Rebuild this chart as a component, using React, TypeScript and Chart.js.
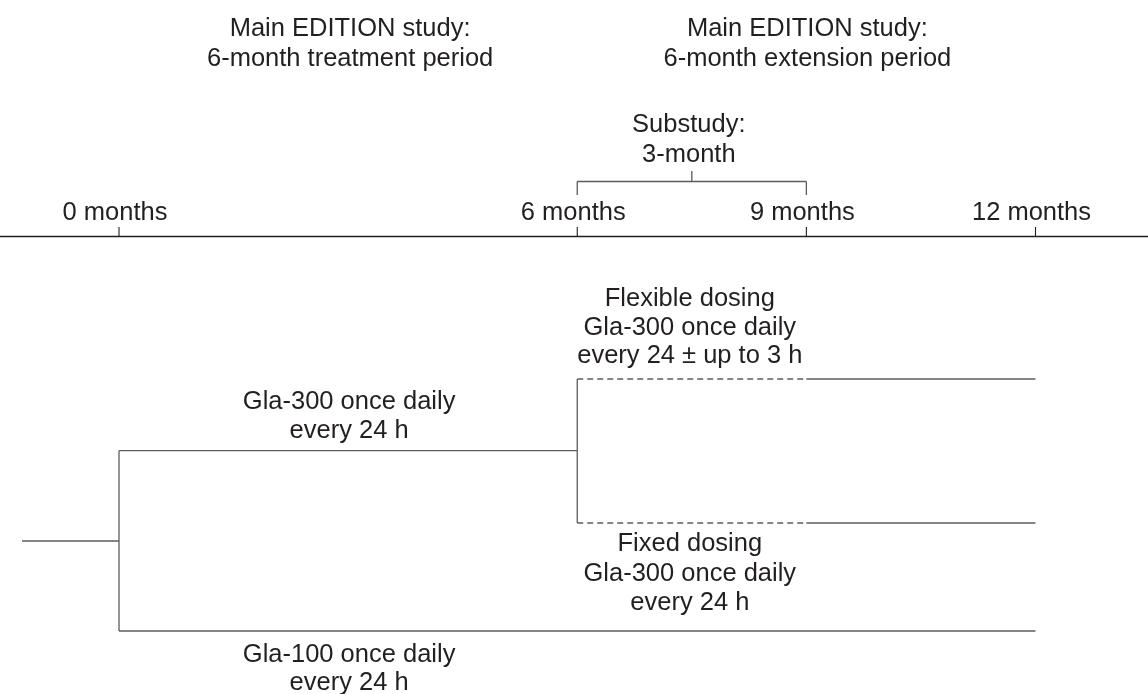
import React, { useEffect, useRef } from "react";
import { Chart, registerables } from "chart.js";

Chart.register(...registerables);

// ---- Data (study timeline, in months) ----
const timepoints = [0, 6, 9, 12];
const timepointLabels = ["0 months", "6 months", "9 months", "12 months"];
const screeningStart = -1.27;
const substudyMid = 7.5;
const treatmentMid = 3;

// y levels (schematic lanes, top = 0)
const levelTimeline = 236.5;
const levelTickTop = 227;
const levelBracket = 181.5;
const levelBracketFoot = 195;
const levelBracketTop = 171;
const levelGla300 = 450.7;
const levelFlexible = 379;
const levelFixed = 523;
const levelGla100 = 631;
const levelEntry = 541;

// text blocks
const headingTreatment = ["Main EDITION study:", "6-month treatment period"];
const headingExtension = ["Main EDITION study:", "6-month extension period"];
const substudyText = ["Substudy:", "3-month"];
const flexibleText = ["Flexible dosing", "Gla-300 once daily", "every 24 \u00b1 up to 3 h"];
const gla300Text = ["Gla-300 once daily", "every 24 h"];
const fixedText = ["Fixed dosing", "Gla-300 once daily", "every 24 h"];
const gla100Text = ["Gla-100 once daily", "every 24 h"];

const X_MIN = -1.558;
const X_MAX = 13.473;
const LINE_COLOR = "#5c5c5c";
const AXIS_COLOR = "#231f20";
const TEXT_COLOR = "#231f20";
const FONT = '25.5px "Liberation Sans", Arial, Helvetica, sans-serif';

function seg(x1: number, y1: number, x2: number, y2: number, opts: any = {}) {
  return {
    data: [
      { x: x1, y: y1 },
      { x: x2, y: y2 },
    ],
    showLine: true,
    borderColor: opts.color || LINE_COLOR,
    borderWidth: opts.width || 1.3,
    borderDash: opts.dash || [],
    pointRadius: 0,
    pointHoverRadius: 0,
    fill: false,
    tension: 0,
  };
}

type TextBlock = { x: number; y: number; lines: string[]; lh: number; dx?: number };

const textBlocks: TextBlock[] = [
  { x: treatmentMid, y: 36, lines: headingTreatment, lh: 30, dx: 2 },
  { x: timepoints[2], y: 36, lines: headingExtension, lh: 30, dx: 1 },
  { x: substudyMid, y: 132, lines: substudyText, lh: 30, dx: -3 },
  { x: substudyMid, y: 306, lines: flexibleText, lh: 28.5, dx: -2 },
  { x: treatmentMid, y: 409, lines: gla300Text, lh: 28.5, dx: 1 },
  { x: substudyMid, y: 551, lines: fixedText, lh: 29.5, dx: -2 },
  { x: treatmentMid, y: 661.5, lines: gla100Text, lh: 28.5, dx: 1 },
];

const textPlugin = {
  id: "diagramText",
  afterDatasetsDraw(chart: any) {
    const { ctx, scales } = chart;
    const xs = scales.x;
    const ys = scales.y;
    ctx.save();
    ctx.fillStyle = TEXT_COLOR;
    ctx.font = FONT;
    ctx.textAlign = "center";
    ctx.textBaseline = "alphabetic";
    textBlocks.forEach((b) => {
      const px = xs.getPixelForValue(b.x) + (b.dx || 0);
      b.lines.forEach((line, i) => {
        const py = ys.getPixelForValue(b.y) + i * b.lh;
        ctx.fillText(line, px, py);
      });
    });
    timepoints.forEach((t, i) => {
      const px = xs.getPixelForValue(t) - 4;
      const py = ys.getPixelForValue(220);
      ctx.fillText(timepointLabels[i], px, py);
    });
    ctx.restore();
  },
};

export default function App() {
  const ref = useRef<HTMLCanvasElement | null>(null);

  useEffect(() => {
    if (!ref.current) return;
    const t0 = timepoints[0];
    const t6 = timepoints[1];
    const t9 = timepoints[2];
    const t12 = timepoints[3];

    const datasets: any[] = [
      // timeline axis
      seg(X_MIN, levelTimeline, X_MAX, levelTimeline, { color: AXIS_COLOR, width: 1.6 }),
      // ticks
      ...timepoints.map((t) => seg(t, levelTickTop, t, levelTimeline, { color: AXIS_COLOR, width: 1.1 })),
      // substudy bracket
      seg(t6, levelBracket, t9, levelBracket),
      seg(t6, levelBracket, t6, levelBracketFoot),
      seg(t9, levelBracket, t9, levelBracketFoot),
      seg(substudyMid, levelBracketTop, substudyMid, levelBracket),
      // randomization
      seg(screeningStart, levelEntry, t0, levelEntry),
      seg(t0, levelGla300, t0, levelGla100),
      // Gla-300 treatment period
      seg(t0, levelGla300, t6, levelGla300),
      // Gla-100 arm
      seg(t0, levelGla100, t12, levelGla100),
      // substudy re-randomization
      seg(t6, levelFlexible, t6, levelFixed),
      seg(t6, levelFlexible, t9, levelFlexible, { dash: [6, 4] }),
      seg(t9, levelFlexible, t12, levelFlexible),
      seg(t6, levelFixed, t9, levelFixed, { dash: [6, 4] }),
      seg(t9, levelFixed, t12, levelFixed),
    ];

    const chart = new Chart(ref.current, {
      type: "scatter",
      data: { datasets },
      options: {
        animation: false,
        responsive: false,
        maintainAspectRatio: false,
        layout: { padding: 0 },
        events: [],
        plugins: {
          legend: { display: false },
          tooltip: { enabled: false },
          title: { display: false },
        },
        scales: {
          x: { type: "linear", min: X_MIN, max: X_MAX, display: false },
          y: { type: "linear", min: 0, max: 694, reverse: true, display: false },
        },
      },
      plugins: [textPlugin],
    } as any);
    return () => chart.destroy();
  }, []);

  return (
    <div
      style={{
        position: "fixed",
        left: 0,
        top: 0,
        width: 1148,
        height: 694,
        background: "#ffffff",
      }}
    >
      <canvas ref={ref} width={1148} height={694} style={{ width: 1148, height: 694, display: "block" }} />
    </div>
  );
}
